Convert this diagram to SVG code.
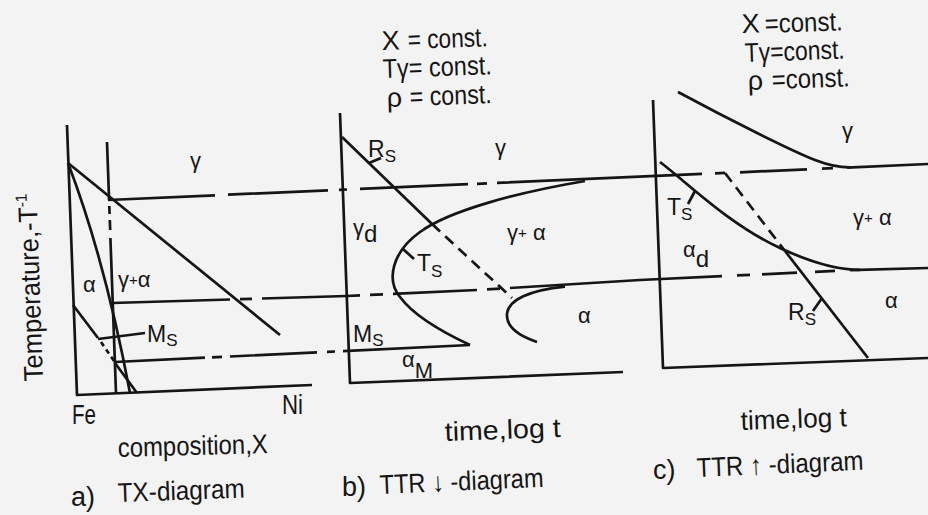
<svg xmlns="http://www.w3.org/2000/svg" width="928" height="515" viewBox="0 0 928 515">
<style>
 .ln{fill:none;stroke:#151515;stroke-width:2.7;stroke-linecap:butt;stroke-linejoin:round}
 .dsh{stroke-dasharray:11 7}
 .dsh2{stroke-dasharray:5 4}
 text{font-family:"Liberation Sans","DejaVu Sans",sans-serif;fill:#151515}
 .big{font-size:27px}
 .lab{font-size:23px}
 .gk{font-size:22px}
 .sub{font-size:17px}
</style>
<rect width="928" height="515" fill="#f3f3f3"/>

<g id="guides">
 <path class="ln" d="M108,200 L215,195.3 M228,194.7 L328,190.3 M339,189.9 L347,189.5 M360,188.9 L468,184.2 M477,183.8 L487,183.4 M497,182.9 L702,173.9 M715,173.4 L725,172.9 M740,172.3 L807,169.3 M822,168.7 L833,168.2 M847,167.6 L928,164"/>
 <path class="ln" d="M112,303 L230,299.5 M240,299.2 L252,298.8 M262,298.5 L347,296 L360,295.4 M370,294.9 L383,294.3 M393,293.9 L477,290 M487,289.4 L500,288.6 M510,288 L640,280 L722,276.1 M737,275.4 L750,274.8 M762,274.3 L797,272.6 M815,271.8 L835,270.8 M850,270.1 L928,268"/>
 <path class="ln" d="M115,362 L205,357.7 M212,357.4 L222,356.9 M230,356.5 L317,352.3 M327,351.8 L335,351.5 M343,351.1 L470,345"/>
</g>

<g id="panel-a">
 <path class="ln" d="M67,125 L77,395 L312,385"/>
 <path class="ln" d="M68,163 L280,335"/>
 <path class="ln" d="M68,163 Q105,260 130,393"/>
 <path class="ln" d="M107,142 L109.1,200 M109.3,206 L109.6,214 M109.8,220 L110.2,230 M110.4,238 L116,393"/>
 <path class="ln" d="M73,305 L98,338 M115,363 L137,393"/>
 <path class="ln dsh2" d="M101,342 L114,361"/>
 <path class="ln" d="M98,339 L145,333"/>
 <text class="gk" x="190" y="168">γ</text>
 <text class="gk" x="83" y="292">α</text>
 <text class="gk" x="118" y="287">γ<tspan font-size="15" dy="-2">+</tspan><tspan dy="2">α</tspan></text>
 <text class="lab" x="147" y="342">M<tspan class="sub" dy="4">S</tspan></text>
 <text class="big" x="72" y="424" textLength="24" lengthAdjust="spacingAndGlyphs">Fe</text>
 <text class="big" x="282" y="414" textLength="21" lengthAdjust="spacingAndGlyphs">Ni</text>
 <text class="big" transform="translate(43,381) rotate(-92)" textLength="188" lengthAdjust="spacingAndGlyphs">Temperature,-T<tspan font-size="16" dy="-10">-1</tspan></text>
 <text class="big" x="118" y="457" transform="rotate(-1.5 118 457)" textLength="150" lengthAdjust="spacingAndGlyphs">composition,X</text>
 <text class="big" x="71" y="506">a)</text>
 <text class="big" x="118" y="502" transform="rotate(-2 118 502)" textLength="127" lengthAdjust="spacingAndGlyphs">TX-diagram</text>
</g>

<g id="panel-b">
 <text class="big" x="382" y="50" transform="rotate(-2 382 50)">X</text>
 <text class="big" x="408" y="49" transform="rotate(-2 408 49)" textLength="80" lengthAdjust="spacingAndGlyphs">= const.</text>
 <text class="big" x="383" y="78" transform="rotate(-2 383 78)" textLength="109" lengthAdjust="spacingAndGlyphs">Tγ= const.</text>
 <text class="big" x="387" y="107" transform="rotate(-2 387 107)">ρ</text>
 <text class="big" x="410" y="106" transform="rotate(-2 410 106)" textLength="82" lengthAdjust="spacingAndGlyphs">= const.</text>
 <path class="ln" d="M340,113 L350,383 L623,372"/>
 <path class="ln" d="M342,137 L432,224"/>
 <path class="ln dsh" d="M432,224 L512,298"/>
 <path class="ln" d="M369,163 L381,158"/>
 <path class="ln" d="M585,181 C520,192 450,210 420,232 C392,252 386,280 400,297 C414,316 440,331 470,345"/>
 <path class="ln" d="M403,249 L414,259"/>
 <path class="ln" d="M565,286.6 C530,290 508,300 507,314 C506,328 522,337 537,342"/>
 <text class="lab" x="368" y="157">R<tspan class="sub" dy="5">S</tspan></text>
 <text class="gk" x="495" y="155">γ</text>
 <text class="gk" x="353" y="235">γ<tspan font-size="24" dy="7">d</tspan></text>
 <text class="gk" x="507" y="240">γ<tspan font-size="15" dy="-2">+</tspan><tspan dy="2"> α</tspan></text>
 <text class="lab" x="417" y="271">T<tspan class="sub" dy="6">S</tspan></text>
 <text class="gk" x="578" y="323">α</text>
 <text class="lab" x="353" y="342">M<tspan class="sub" dy="4">S</tspan></text>
 <text class="gk" x="402" y="367">α<tspan font-size="22" dy="11">M</tspan></text>
 <text class="big" x="445" y="441" transform="rotate(-2 445 441)" textLength="116" lengthAdjust="spacingAndGlyphs">time,log  t</text>
 <text class="big" x="342" y="496">b)</text>
 <text class="big" x="380" y="494" transform="rotate(-2.5 380 494)" textLength="164" lengthAdjust="spacingAndGlyphs">TTR ↓ -diagram</text>
</g>

<g id="panel-c">
 <text class="big" x="742" y="33" transform="rotate(-2 742 33)">X</text>
 <text class="big" x="765" y="33" transform="rotate(-2 765 33)" textLength="78" lengthAdjust="spacingAndGlyphs">=const.</text>
 <text class="big" x="745" y="62" transform="rotate(-2 745 62)" textLength="100" lengthAdjust="spacingAndGlyphs">Tγ=const.</text>
 <text class="big" x="748" y="90" transform="rotate(-2 748 90)">ρ</text>
 <text class="big" x="772" y="89" transform="rotate(-2 772 89)" textLength="78" lengthAdjust="spacingAndGlyphs">=const.</text>
 <path class="ln" d="M653,100 L663,368 L928,358"/>
 <path class="ln" d="M678,92 C730,120 790,150 815,160 C828,165 838,167.5 850,167.4"/>
 <path class="ln" d="M660,162 C690,185 730,225 780,248 C810,262 835,270 860,269.8"/>
 <path class="ln dsh" d="M725,173 L785,251"/>
 <path class="ln" d="M785,251 L868,358"/>
 <path class="ln" d="M695,191 L688,204"/>
 <path class="ln" d="M822,298 L813,311"/>
 <text class="gk" x="842" y="138">γ</text>
 <text class="lab" x="667" y="215">T<tspan class="sub" dy="5">S</tspan></text>
 <text class="gk" x="683" y="257">α<tspan font-size="24" dy="10">d</tspan></text>
 <text class="gk" x="853" y="225">γ<tspan font-size="15" dy="-2">+</tspan><tspan dy="2"> α</tspan></text>
 <text class="lab" x="788" y="320">R<tspan class="sub" dy="5">S</tspan></text>
 <text class="gk" x="885" y="308">α</text>
 <text class="big" x="741" y="430" transform="rotate(-2 741 430)" textLength="106" lengthAdjust="spacingAndGlyphs">time,log t</text>
 <text class="big" x="653" y="479">c)</text>
 <text class="big" x="697" y="477" transform="rotate(-2.5 697 477)" textLength="167" lengthAdjust="spacingAndGlyphs">TTR ↑ -diagram</text>
</g>
</svg>
